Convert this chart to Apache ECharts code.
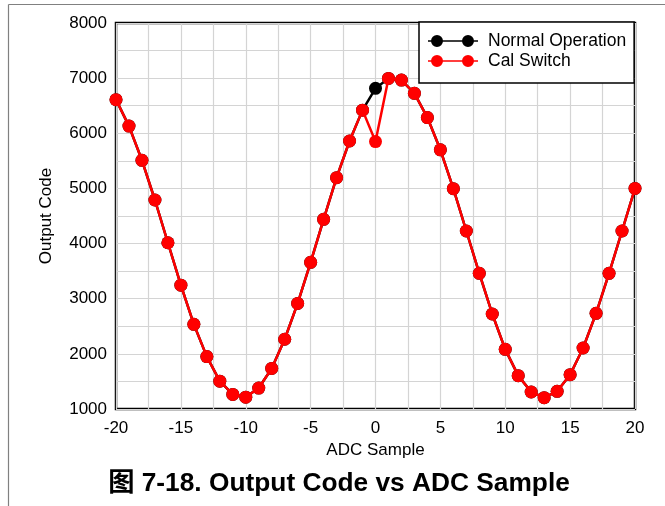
<!DOCTYPE html>
<html>
<head>
<meta charset="utf-8">
<script src="https://cdn.jsdelivr.net/npm/echarts@6/dist/echarts.min.js"></script>
<style>
  html, body { margin: 0; padding: 0; background: #fff; }
  #chart { width: 665px; height: 506px; }
</style>
</head>
<body>
<div id="chart"></div>
<script>
// ADC sample index
const samples = [-20, -19, -18, -17, -16, -15, -14, -13, -12, -11, -10, -9, -8, -7, -6, -5, -4, -3, -2, -1,
  0, 1, 2, 3, 4, 5, 6, 7, 8, 9, 10, 11, 12, 13, 14, 15, 16, 17, 18, 19, 20];

// Output code, normal operation
const normalCodes = [6610, 6130, 5510, 4790, 4015, 3245, 2535, 1950, 1505, 1265, 1215, 1380, 1735, 2265, 2915, 3660, 4440, 5195, 5860, 6420,
  6815, 6995, 6965, 6725, 6285, 5700, 4995, 4228, 3460, 2723, 2082, 1605, 1308, 1205, 1320, 1622, 2106, 2735, 3460, 4228, 5000];

// Output code with the calibration switch event at sample 0
const calCodes = [6610, 6130, 5510, 4790, 4015, 3245, 2535, 1950, 1505, 1265, 1215, 1380, 1735, 2265, 2915, 3660, 4440, 5195, 5860, 6420,
  5850, 6995, 6965, 6725, 6285, 5700, 4995, 4228, 3460, 2723, 2082, 1605, 1308, 1205, 1320, 1622, 2106, 2735, 3460, 4228, 5000];

const seriesNames = ['Normal Operation', 'Cal Switch'];
const xTicks = [-20, -15, -10, -5, 0, 5, 10, 15, 20];
const yTicks = [1000, 2000, 3000, 4000, 5000, 6000, 7000, 8000];
const titleText = '图 7-18. Output Code vs ADC Sample';

const FONT = '"Liberation Sans", Arial, "Noto Sans CJK SC", sans-serif';

const pairs = (ys) => samples.map((x, i) => [x, ys[i]]);

// legend icon: a short line with two dots (50 x 12 box)
const legendIcon = 'path://M0 5.2 H50 V6.8 H0 Z M3 6 A6 6 0 1 1 15 6 A6 6 0 1 1 3 6 Z M34 6 A6 6 0 1 1 46 6 A6 6 0 1 1 34 6 Z';

const chart = echarts.init(document.getElementById('chart'), null, { renderer: 'canvas' });

chart.setOption({
  animation: false,
  backgroundColor: '#fff',
  textStyle: { fontFamily: FONT },
  grid: {
    left: 116, right: 30, top: 23, bottom: 97,
    show: true, borderColor: '#000', borderWidth: 2.5, backgroundColor: 'transparent'
  },
  xAxis: {
    type: 'value', min: -20, max: 20, interval: 2.5,
    name: 'ADC Sample', nameLocation: 'middle', nameGap: 25,
    nameTextStyle: { fontSize: 17, color: '#000', fontFamily: FONT },
    axisLine: { show: false }, axisTick: { show: false },
    axisLabel: {
      fontSize: 17, color: '#000', margin: 11, fontFamily: FONT,
      formatter: (v) => (xTicks.indexOf(v) >= 0 ? String(v) : '')
    },
    splitLine: { show: true, lineStyle: { color: '#d4d4d4', width: 1.2 } }
  },
  yAxis: {
    type: 'value', min: 1000, max: 8000, interval: 500,
    name: 'Output Code', nameLocation: 'middle', nameGap: 61,
    nameTextStyle: { fontSize: 17, color: '#000', fontFamily: FONT },
    axisLine: { show: false }, axisTick: { show: false },
    axisLabel: {
      fontSize: 17, color: '#000', margin: 9, fontFamily: FONT,
      formatter: (v) => (yTicks.indexOf(v) >= 0 ? String(v) : '')
    },
    splitLine: { show: true, lineStyle: { color: '#d4d4d4', width: 1.2 } }
  },
  legend: {
    left: 419, top: 22,
    orient: 'vertical',
    data: seriesNames,
    icon: legendIcon,
    itemWidth: 50, itemHeight: 12, itemGap: 0,
    itemStyle: { borderWidth: 0 },
    backgroundColor: '#fff',
    borderColor: '#000', borderWidth: 1.5, borderRadius: 0,
    padding: [9, 8, 12, 9],
    textStyle: { fontSize: 17.5, color: '#000', lineHeight: 20, padding: [0, 0, 0, 5], fontFamily: FONT }
  },
  graphic: [
    { type: 'line', silent: true, shape: { x1: 8.5, y1: 4.5, x2: 8.5, y2: 506 }, style: { stroke: '#808080', lineWidth: 1.2 } },
    { type: 'line', silent: true, shape: { x1: 8.5, y1: 4.5, x2: 665, y2: 4.5 }, style: { stroke: '#808080', lineWidth: 1.2 } },
    {
      type: 'text', x: 339, y: 484,
      style: {
        text: titleText, fill: '#000', font: 'bold 26.3px ' + FONT,
        align: 'center', verticalAlign: 'middle'
      }
    }
  ],
  series: [
    {
      name: seriesNames[0], type: 'line', data: pairs(normalCodes),
      symbol: 'circle', symbolSize: 13,
      lineStyle: { color: '#000', width: 2.5 },
      itemStyle: { color: '#000', borderWidth: 0 },
      z: 2
    },
    {
      name: seriesNames[1], type: 'line', data: pairs(calCodes),
      symbol: 'circle', symbolSize: 13,
      lineStyle: { color: '#ff0000', width: 2.5 },
      itemStyle: { color: '#ff0000', borderWidth: 0 },
      z: 3
    }
  ]
});
</script>
</body>
</html>
